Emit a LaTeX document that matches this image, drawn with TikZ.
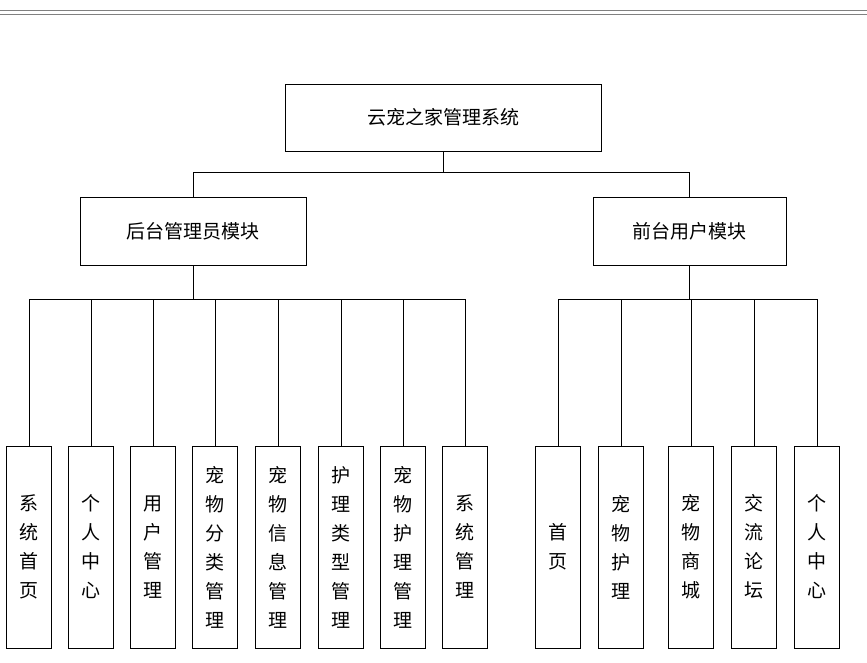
\documentclass[tikz,border=0pt]{standalone}
\usepackage{fontspec}
\setmainfont{Noto Sans CJK SC}
\begin{document}
\begin{tikzpicture}
        [x=1pt,y=-1pt,every node/.style={draw,thick,shape=rectangle,inner sep=0,font=\fontsize{19}{29}\selectfont}]

        \useasboundingbox (0,0) rectangle (867,662);
        \draw[draw=gray,line width=1pt] (0,10) -- (867,10);
        \draw[draw=gray,line width=1pt] (0,14) -- (867,14);

        \node[minimum width=316pt,minimum height=67pt] (root) at (443,117.5) {云宠之家管理系统};
        \node[minimum width=226pt,minimum height=68pt] (admin) at (193,231) {后台管理员模块};
        \node[minimum width=193pt,minimum height=68pt] (user) at (689.5,231) {前台用户模块};

        \tikzset{leaf/.style={minimum width=45pt,minimum height=202pt,align=center}}
        \node[leaf] (a1) at (29,547) {系\\统\\首\\页};
        \node[leaf] (a2) at (91,547) {个\\人\\中\\心};
        \node[leaf] (a3) at (153,547) {用\\户\\管\\理};
        \node[leaf] (a4) at (215,547) {宠\\物\\分\\类\\管\\理};
        \node[leaf] (a5) at (278,547) {宠\\物\\信\\息\\管\\理};
        \node[leaf] (a6) at (341,547) {护\\理\\类\\型\\管\\理};
        \node[leaf] (a7) at (403,547) {宠\\物\\护\\理\\管\\理};
        \node[leaf] (a8) at (465,547) {系\\统\\管\\理};
        \node[leaf] (b1) at (558,547) {首\\页};
        \node[leaf] (b2) at (621,547) {宠\\物\\护\\理};
        \node[leaf] (b3) at (691,547) {宠\\物\\商\\城};
        \node[leaf] (b4) at (754,547) {交\\流\\论\\坛};
        \node[leaf] (b5) at (817,547) {个\\人\\中\\心};

        \coordinate (top) at (443,172);
        \draw (root) -- (top);
        \draw (top) -| (admin);
        \draw (top) -| (user);

        \coordinate (abus) at (193,299);
        \draw (admin) -- (abus);
        \foreach \i in {1,...,8} \draw (abus) -| (a\i);

        \coordinate (bbus) at (689.5,299);
        \draw (user) -- (bbus);
        \foreach \i in {1,...,5} \draw (bbus) -| (b\i);
      \end{tikzpicture}
\end{document}
